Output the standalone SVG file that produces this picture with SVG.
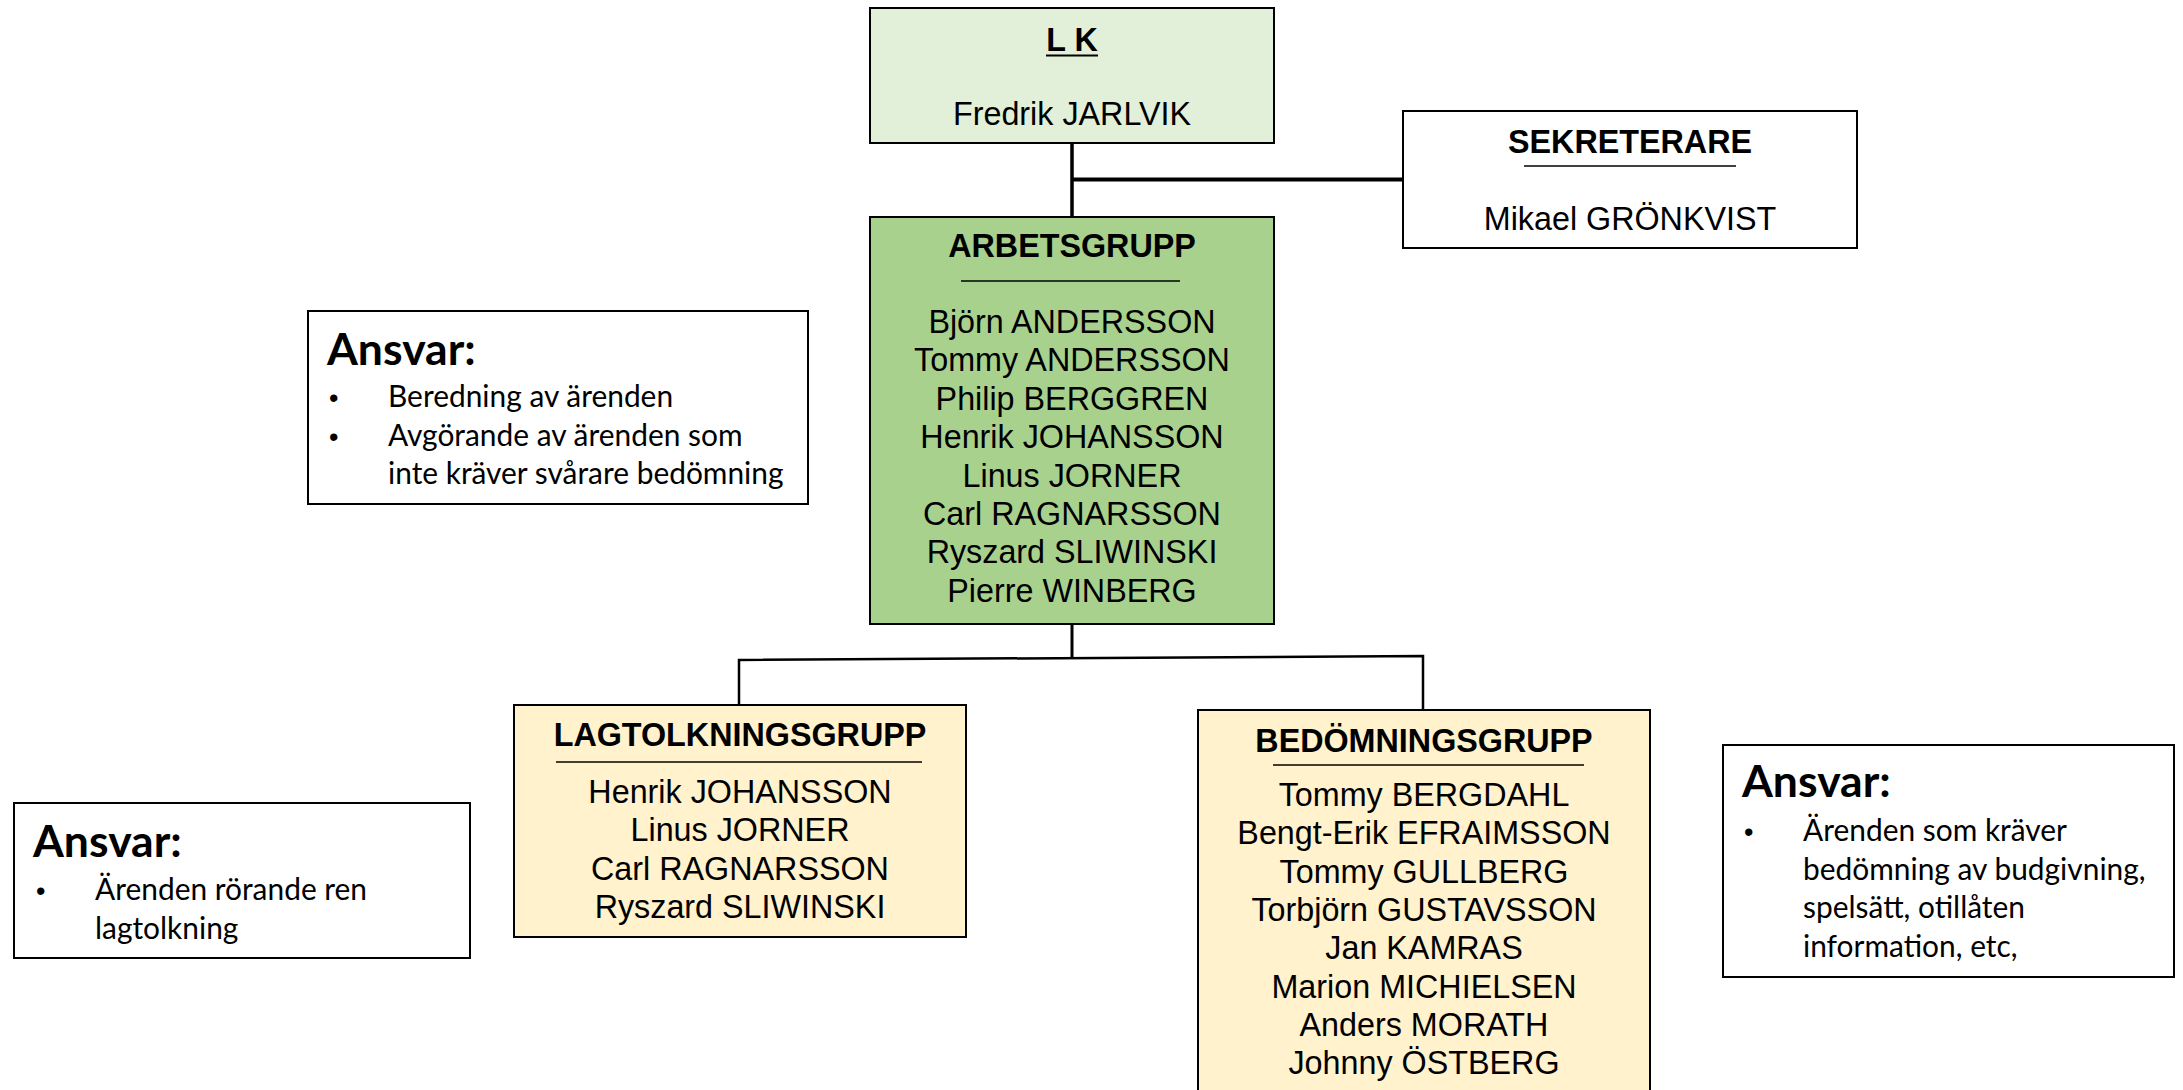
<svg xmlns="http://www.w3.org/2000/svg" width="2183" height="1090" viewBox="0 0 2183 1090">
<style>
.box{stroke:#000;stroke-width:2}
.t{font-family:"Liberation Sans",Arial,sans-serif;font-size:32.3px;fill:#000;text-anchor:middle}
.b{font-weight:bold}
.sep{stroke:#000;stroke-width:1.3}
.c{stroke:#000;fill:none}
.a{font-family:Lato,"Open Sans",sans-serif;font-size:29.9px;fill:#000}
.bu{font-family:"Liberation Sans",Arial,sans-serif;font-size:27px;fill:#000}
.ah{font-family:Lato,"Open Sans",sans-serif;font-size:44.5px;font-weight:bold;fill:#000}
</style>
<rect width="2183" height="1090" fill="#fff"/>
<g id="connectors">
<line class="c" x1="1072" y1="143" x2="1072" y2="217" stroke-width="3.5"/>
<line class="c" x1="1072" y1="179.5" x2="1403" y2="179.5" stroke-width="4"/>
<line class="c" x1="1072" y1="624" x2="1072" y2="658" stroke-width="3"/>
<polyline class="c" points="739,705 739,660 1423,656 1423,710" stroke-width="2.5"/>
</g>
<g id="lk">
<rect class="box" x="870" y="8" width="404" height="135" fill="#E2F0D9"/>
<text class="t b" x="1072" y="51">L K</text>
<line x1="1046" y1="55.5" x2="1098" y2="55.5" stroke="#000" stroke-width="2"/>
<text class="t" x="1072" y="125">Fredrik JARLVIK</text>
</g>
<g id="sekreterare">
<rect class="box" x="1403" y="111" width="454" height="137" fill="#fff"/>
<text class="t b" x="1630" y="153">SEKRETERARE</text>
<line class="sep" x1="1524" y1="166" x2="1736" y2="166"/>
<text class="t" x="1630" y="230">Mikael GRÖNKVIST</text>
</g>
<g id="arbetsgrupp">
<rect class="box" x="870" y="217" width="404" height="407" fill="#A9D18E"/>
<text class="t b" x="1072" y="257">ARBETSGRUPP</text>
<line class="sep" x1="961" y1="281" x2="1180" y2="281"/>
<text class="t" x="1072" y="333">Björn ANDERSSON</text>
<text class="t" x="1072" y="371.4">Tommy ANDERSSON</text>
<text class="t" x="1072" y="409.8">Philip BERGGREN</text>
<text class="t" x="1072" y="448.2">Henrik JOHANSSON</text>
<text class="t" x="1072" y="486.6">Linus JORNER</text>
<text class="t" x="1072" y="525">Carl RAGNARSSON</text>
<text class="t" x="1072" y="563.4">Ryszard SLIWINSKI</text>
<text class="t" x="1072" y="601.8">Pierre WINBERG</text>
</g>
<g id="lagtolkningsgrupp">
<rect class="box" x="514" y="705" width="452" height="232" fill="#FFF2CC"/>
<text class="t b" x="740" y="746">LAGTOLKNINGSGRUPP</text>
<line class="sep" x1="556" y1="762" x2="922" y2="762"/>
<text class="t" x="740" y="803">Henrik JOHANSSON</text>
<text class="t" x="740" y="841.3">Linus JORNER</text>
<text class="t" x="740" y="879.6">Carl RAGNARSSON</text>
<text class="t" x="740" y="917.9">Ryszard SLIWINSKI</text>
</g>
<g id="bedomningsgrupp">
<rect class="box" x="1198" y="710" width="452" height="390" fill="#FFF2CC"/>
<text class="t b" x="1424" y="752">BEDÖMNINGSGRUPP</text>
<line class="sep" x1="1273" y1="765" x2="1584" y2="765"/>
<text class="t" x="1424" y="806">Tommy BERGDAHL</text>
<text class="t" x="1424" y="844.3">Bengt-Erik EFRAIMSSON</text>
<text class="t" x="1424" y="882.6">Tommy GULLBERG</text>
<text class="t" x="1424" y="920.9">Torbjörn GUSTAVSSON</text>
<text class="t" x="1424" y="959.2">Jan KAMRAS</text>
<text class="t" x="1424" y="997.5">Marion MICHIELSEN</text>
<text class="t" x="1424" y="1035.8">Anders MORATH</text>
<text class="t" x="1424" y="1074.1">Johnny ÖSTBERG</text>
</g>
<g id="ansvar-arbetsgrupp">
<rect class="box" x="308" y="311" width="500" height="193" fill="#fff"/>
<text class="ah" x="327" y="365">Ansvar:</text>
<text class="bu" x="329" y="407">•</text>
<text class="a" x="388" y="407">Beredning av ärenden</text>
<text class="bu" x="329" y="445.5">•</text>
<text class="a" x="388" y="445.5">Avgörande av ärenden som</text>
<text class="a" x="388" y="484">inte kräver svårare bedömning</text>
</g>
<g id="ansvar-lagtolkning">
<rect class="box" x="14" y="803" width="456" height="155" fill="#fff"/>
<text class="ah" x="33" y="857">Ansvar:</text>
<text class="bu" x="36" y="900">•</text>
<text class="a" x="95" y="900">Ärenden rörande ren</text>
<text class="a" x="95" y="938.5">lagtolkning</text>
</g>
<g id="ansvar-bedomning">
<rect class="box" x="1723" y="745" width="451" height="232" fill="#fff"/>
<text class="ah" x="1742" y="797">Ansvar:</text>
<text class="bu" x="1744" y="841">•</text>
<text class="a" x="1803" y="841">Ärenden som kräver</text>
<text class="a" x="1803" y="879.5">bedömning av budgivning,</text>
<text class="a" x="1803" y="918">spelsätt, otillåten</text>
<text class="a" x="1803" y="956.5">information, etc,</text>
</g>
</svg>
